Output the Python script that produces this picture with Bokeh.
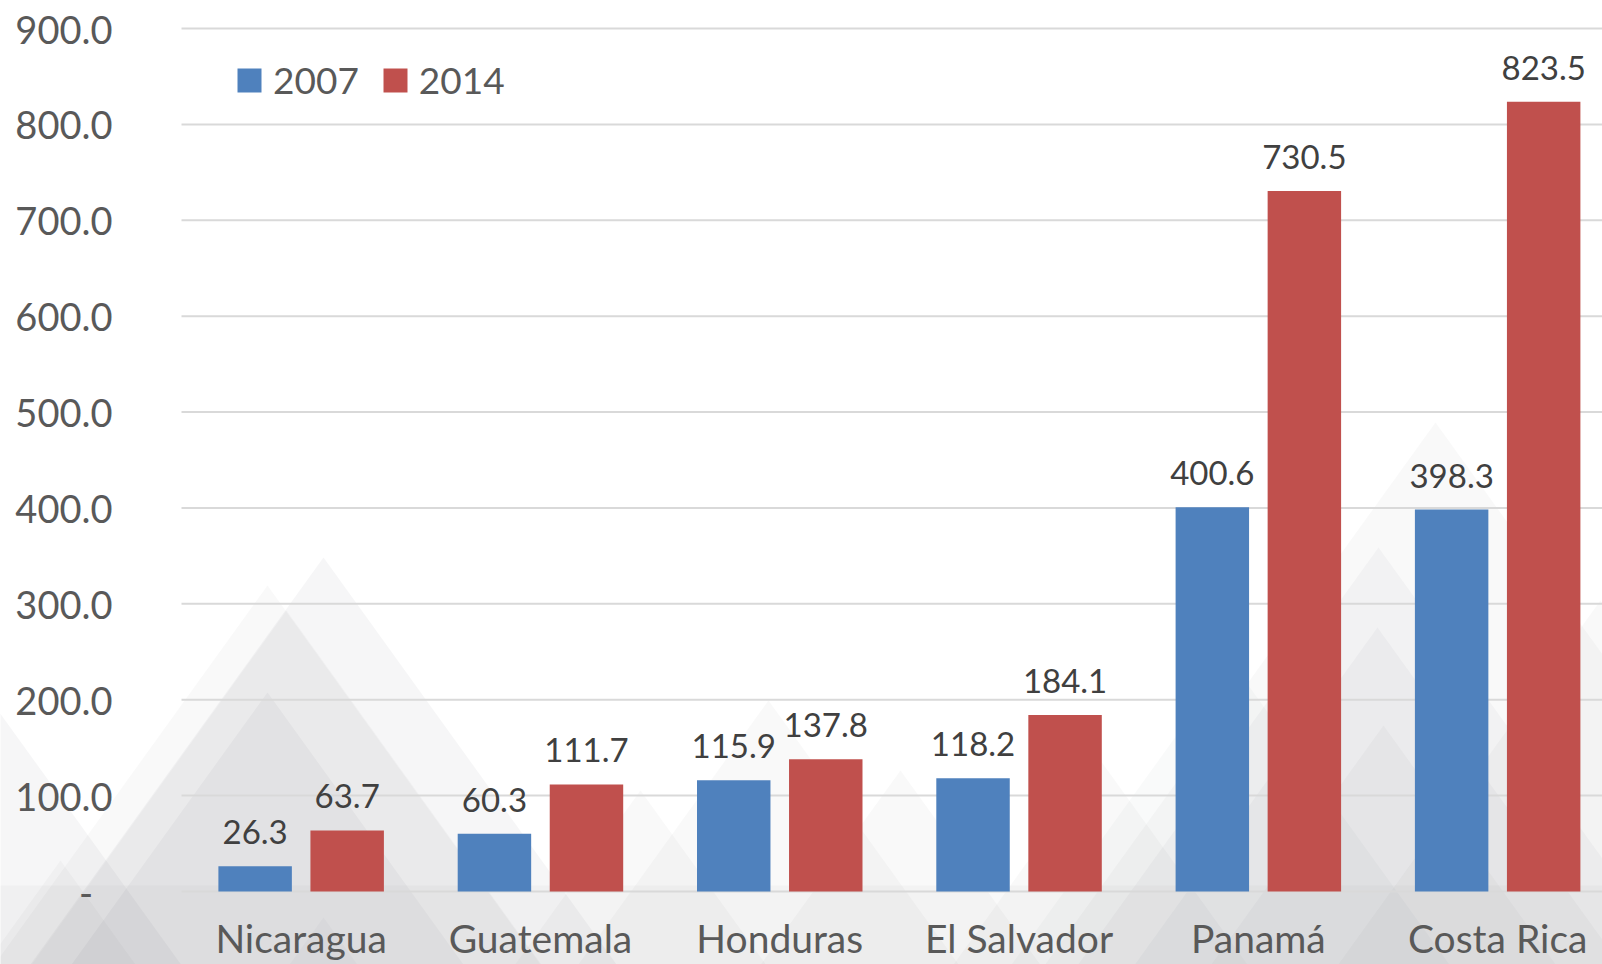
from bokeh.plotting import figure
from bokeh.models import (ColumnDataSource, Legend, LegendItem, FixedTicker,
                          PolyAnnotation, Range1d)
from bokeh.transform import dodge
from bokeh.core.properties import value
from bokeh.embed import file_html
from bokeh.resources import INLINE

# ---------------- data ----------------
countries = ["Nicaragua", "Guatemala", "Honduras", "El Salvador", "Panamá", "Costa Rica"]
series_names = ["2007", "2014"]
values_2007 = [26.3, 60.3, 115.9, 118.2, 400.6, 398.3]
values_2014 = [63.7, 111.7, 137.8, 184.1, 730.5, 823.5]
y_tick_values = [0, 100, 200, 300, 400, 500, 600, 700, 800, 900]
y_tick_labels = ["-", "100.0", "200.0", "300.0", "400.0", "500.0", "600.0", "700.0", "800.0", "900.0"]

# ---------------- layout / style ----------------
FONT = "Lato"
W, H = 1602, 964
PLOT_LEFT_PX, TOP_TICK_PX, ZERO_PX = 181, 28, 891   # where the value axis lives
CAT_PX = 239.3                                       # one category, in pixels
Y_MAX = 900
PPU = (ZERO_PX - TOP_TICK_PX) / Y_MAX
x_start = -0.5 - PLOT_LEFT_PX / CAT_PX
x_end = -0.5 + (W - PLOT_LEFT_PX) / CAT_PX
y_start = -(H - ZERO_PX) / PPU
y_end = ZERO_PX / PPU

BLUE, RED = "#4F81BD", "#C0504D"
OFF = 0.1923
BAR_W = 0.307

p = figure(width=W, height=H, output_backend="svg", toolbar_location=None,
           x_range=Range1d(x_start, x_end), y_range=Range1d(y_start, y_end),
           min_border=0, min_border_left=0, min_border_right=0,
           min_border_top=0, min_border_bottom=0)
p.background_fill_color = "white"
p.border_fill_color = "white"
p.outline_line_color = None


# ---------------- decorative background triangles (pixels) ----------------
def dx(px):
    return x_start + px / CAT_PX


def dy(py):
    return (ZERO_PX - py) / PPU


DECOR = "#5f6570"
decor = [
    (323, 557, 0.06), (267, 585, 0.04), (286, 610, 0.04), (267, 692, 0.06),
    (-60, 630, 0.06), (323, 917, 0.03), (60, 860, 0.04),
    (768, 700, 0.04), (640, 790, 0.04), (900, 770, 0.04), (1100, 760, 0.04),
    (1435, 422, 0.04), (1378, 547, 0.045), (1377, 627, 0.045), (1383, 725, 0.04),
    (1230, 660, 0.035), (1600, 600, 0.04),
]
for (px, py, a) in decor:
    bottom = 1100
    hw = 0.72 * (bottom - py)
    p.add_layout(PolyAnnotation(
        xs=[dx(px), dx(px - hw), dx(px + hw)], ys=[dy(py), dy(bottom), dy(bottom)],
        fill_color=DECOR, fill_alpha=a, line_color=None, level="image"))
p.add_layout(PolyAnnotation(
    xs=[dx(-20), dx(1650), dx(1650), dx(-20)], ys=[dy(885), dy(885), dy(1100), dy(1100)],
    fill_color=DECOR, fill_alpha=0.04, line_color=None, level="image"))

# ---------------- gridlines (value ticks) ----------------
p.segment(x0=-0.5, x1=x_end, y0=y_tick_values, y1=y_tick_values,
          line_color="#D9D9D9", line_width=2, level="underlay")

# ---------------- bars ----------------
src = ColumnDataSource(dict(
    x=list(range(len(countries))), country=countries,
    v2007=values_2007, v2014=values_2014,
    l2007=[f"{v:.1f}" for v in values_2007],
    l2014=[f"{v:.1f}" for v in values_2014],
))

r1 = p.vbar(x=dodge("x", -OFF, range=p.x_range), top="v2007", width=BAR_W,
            source=src, fill_color=BLUE, line_color=None)
r2 = p.vbar(x=dodge("x", OFF, range=p.x_range), top="v2014", width=BAR_W,
            source=src, fill_color=RED, line_color=None)

for col, lab, off in (("v2007", "l2007", -OFF), ("v2014", "l2014", OFF)):
    p.text(x=dodge("x", off, range=p.x_range), y=col, text=lab, source=src,
           text_align="center", text_baseline="alphabetic", y_offset=-34,
           text_font=value(FONT), text_font_size="33px", text_color="#404040")

# ---------------- axes ----------------
p.xaxis.ticker = FixedTicker(ticks=list(range(len(countries))))
p.xaxis.major_label_overrides = {i: c for i, c in enumerate(countries)}
p.xaxis.fixed_location = 0
p.yaxis.ticker = FixedTicker(ticks=y_tick_values)
ylab = {v: l for v, l in zip(y_tick_values, y_tick_labels)}
ylab[0] = y_tick_labels[0] + "\u00a0\u00a0"
p.yaxis.major_label_overrides = ylab
p.yaxis.fixed_location = -0.5

for ax in (p.xaxis, p.yaxis):
    ax.axis_line_color = None
    ax.major_tick_line_color = None
    ax.minor_tick_line_color = None
    ax.major_tick_out = 0
    ax.major_tick_in = 0
    ax.major_label_text_font = FONT
    ax.major_label_text_color = "#595959"
p.yaxis.major_label_text_font_size = "38px"
p.yaxis.major_label_standoff = 69
p.xaxis.major_label_text_font_size = "39px"
p.xaxis.major_label_standoff = 23

p.xgrid.grid_line_color = None
p.ygrid.grid_line_color = None

# ---------------- legend ----------------
legend = Legend(items=[LegendItem(label=series_names[0], renderers=[r1]),
                       LegendItem(label=series_names[1], renderers=[r2])],
                orientation="horizontal", location=(234, 862),
                glyph_width=30, glyph_height=30, label_standoff=9, spacing=21,
                label_text_font=FONT, label_text_font_size="37px",
                label_text_color="#595959", padding=0, margin=0,
                background_fill_alpha=0, border_line_alpha=0)
p.add_layout(legend)

open("out.html", "w").write(file_html(p, INLINE))
